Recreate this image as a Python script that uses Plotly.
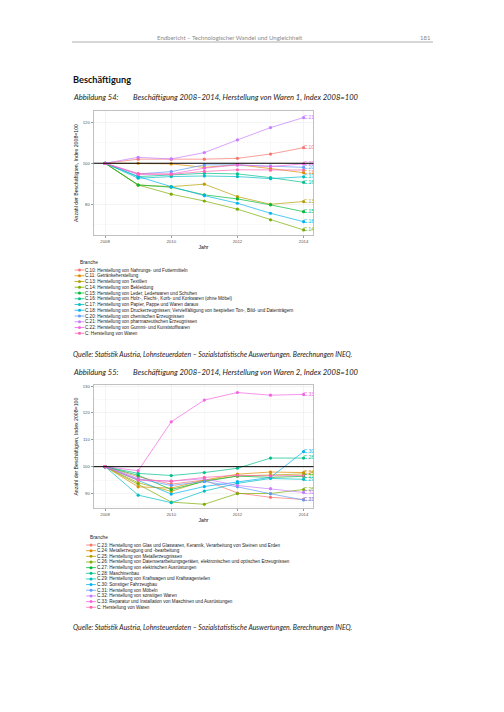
import plotly.graph_objects as go

years = [2008, 2009, 2010, 2011, 2012, 2013, 2014]
hue12 = ["#F8766D", "#DE8C00", "#B79F00", "#7CAE00", "#00BA38", "#00C08B",
         "#00BFC4", "#00B4F0", "#619CFF", "#C77CFF", "#F564E3", "#FF64B0"]

# ---------- Abbildung 54 ----------
codes1 = ["C.10", "C.11", "C.13", "C.14", "C.15", "C.16", "C.17", "C.18", "C.20", "C.21", "C.22", "C"]
names1 = [
    "C.10: Herstellung von Nahrungs- und Futtermitteln",
    "C.11: Getränkeherstellung",
    "C.13: Herstellung von Textilien",
    "C.14: Herstellung von Bekleidung",
    "C.15: Herstellung von Leder, Lederwaren und Schuhen",
    "C.16: Herstellung von Holz-, Flecht-, Korb- und Korkwaren (ohne Möbel)",
    "C.17: Herstellung von Papier, Pappe und Waren daraus",
    "C.18: Herstellung von Druckerzeugnissen; Vervielfältigung von bespielten Ton-, Bild- und Datenträgern",
    "C.20: Herstellung von chemischen Erzeugnissen",
    "C.21: Herstellung von pharmazeutischen Erzeugnissen",
    "C.22: Herstellung von Gummi- und Kunststoffwaren",
    "C: Herstellung von Waren",
]
c10 = [100, 102.0, 102.0, 102.0, 102.4, 104.5, 107.6]
c11 = [100, 100.0, 99.7, 98.0, 99.3, 97.4, 95.4]
c13 = [100, 89.4, 88.6, 89.8, 83.7, 80.0, 81.3]
c14 = [100, 89.4, 84.9, 81.6, 77.6, 72.4, 67.5]
c15 = [100, 89.4, 88.3, 84.6, 82.6, 79.7, 76.4]
c16 = [100, 93.5, 94.3, 95.1, 94.8, 93.0, 90.7]
c17 = [100, 92.7, 93.5, 93.8, 93.5, 92.5, 93.4]
c18 = [100, 93.5, 88.6, 84.2, 80.5, 75.6, 71.5]
c20 = [100, 94.8, 95.9, 99.2, 99.2, 98.7, 98.0]
c21 = [100, 102.9, 102.1, 105.2, 111.4, 117.4, 122.3]
c22 = [100, 94.5, 94.8, 97.6, 99.2, 98.4, 99.7]
c_total = [100, 95.0, 94.6, 96.0, 96.8, 96.6, 96.7]
series1 = [c10, c11, c13, c14, c15, c16, c17, c18, c20, c21, c22, c_total]

# ---------- Abbildung 55 ----------
codes2 = ["C.23", "C.24", "C.25", "C.26", "C.27", "C.28", "C.29", "C.30", "C.31", "C.32", "C.33", "C"]
names2 = [
    "C.23: Herstellung von Glas und Glaswaren, Keramik, Verarbeitung von Steinen und Erden",
    "C.24: Metallerzeugung und -bearbeitung",
    "C.25: Herstellung von Metallerzeugnissen",
    "C.26: Herstellung von Datenverarbeitungsgeräten, elektronischen und optischen Erzeugnissen",
    "C.27: Herstellung von elektrischen Ausrüstungen",
    "C.28: Maschinenbau",
    "C.29: Herstellung von Kraftwagen und Kraftwagenteilen",
    "C.30: Sonstiger Fahrzeugbau",
    "C.31: Herstellung von Möbeln",
    "C.32: Herstellung von sonstigen Waren",
    "C.33: Reparatur und Installation von Maschinen und Ausrüstungen",
    "C: Herstellung von Waren",
]
c23 = [100, 96.2, 93.5, 95.0, 90.2, 88.6, 87.8]
c24 = [100, 92.5, 92.0, 95.0, 97.2, 98.0, 97.8]
c25 = [100, 94.0, 90.8, 94.8, 96.5, 97.0, 97.3]
c26 = [100, 93.5, 86.8, 86.0, 90.0, 90.0, 91.5]
c27 = [100, 96.8, 91.5, 94.5, 96.5, 96.0, 96.4]
c28 = [100, 97.5, 96.7, 97.8, 99.4, 103.2, 103.2]
c29 = [100, 89.4, 86.6, 90.9, 93.8, 95.6, 95.3]
c30 = [100, 95.0, 89.8, 92.6, 94.4, 96.0, 105.6]
c31 = [100, 95.5, 93.0, 94.5, 92.5, 89.9, 87.6]
c32 = [100, 95.2, 94.6, 95.5, 93.0, 91.8, 90.4]
c33 = [100, 98.5, 116.7, 124.8, 127.6, 126.6, 126.9]
series2 = [c23, c24, c25, c26, c27, c28, c29, c30, c31, c32, c33, c_total]

W, H = 504, 712
FONT = "Liberation Sans"
PAGE = "Lato"

fig = go.Figure()


def add_chart(series, codes, xa, ya):
    for vals, code, col in zip(series, codes, hue12):
        fig.add_trace(go.Scatter(
            x=years, y=vals, mode="lines+markers", xaxis=xa, yaxis=ya,
            line=dict(color=col, width=0.7), marker=dict(color=col, size=3.2),
            showlegend=False, hoverinfo="skip"))
    # end-of-line branch labels (the total line carries no label)
    fig.add_trace(go.Scatter(
        x=[years[-1]] * (len(series) - 1), y=[s[-1] for s in series[:-1]], mode="text",
        text=codes[:-1], textposition="middle right", cliponaxis=True,
        textfont=dict(color=hue12[:-1], size=5, family=FONT),
        xaxis=xa, yaxis=ya, showlegend=False, hoverinfo="skip"))


add_chart(series1, codes1, "x", "y")
add_chart(series2, codes2, "x2", "y2")

# legend keys drawn on a page-pixel helper axis
leg1_y = [270 + i * 5.75 for i in range(12)]
leg2_y = [545 + i * 5.66 for i in range(12)]
key_x = [79.5] * 12 + [91.0] * 12
key_y = leg1_y + leg2_y
fig.add_trace(go.Scatter(x=key_x, y=key_y, mode="markers", xaxis="x3", yaxis="y3",
                         marker=dict(symbol="line-ew", size=7, line=dict(color=hue12 * 2, width=0.8)),
                         showlegend=False, hoverinfo="skip"))
fig.add_trace(go.Scatter(x=key_x, y=key_y, mode="markers", xaxis="x3", yaxis="y3",
                         marker=dict(symbol="circle", size=3, color=hue12 * 2),
                         showlegend=False, hoverinfo="skip"))

ann = []


def txt(x, y, s, size, color="#222", family=PAGE, anchor="left", italic=False, bold=False):
    if bold:
        s = "<b>" + s + "</b>"
    if italic:
        s = "<i>" + s + "</i>"
    ann.append(dict(x=x, y=y, xref="x3", yref="y3", text=s, showarrow=False,
                    xanchor=anchor, yanchor="middle",
                    font=dict(size=size, color=color, family=family)))


txt(230, 37.5, "Endbericht – Technologischer Wandel und Ungleichheit", 6, "#8a8a8a", anchor="center")
txt(433, 37.5, "181", 6, "#8a8a8a", anchor="right")
txt(71, 79, "Beschäftigung", 9.2, "#111", bold=True)
txt(71, 96.5, "Abbildung 54:", 7.6, italic=True)
txt(131, 96.5, "Beschäftigung 2008–2014, Herstellung von Waren 1, Index 2008=100", 7.6, italic=True)
txt(71, 354, "Quelle: Statistik Austria, Lohnsteuerdaten – Sozialstatistische Auswertungen. Berechnungen INEQ.", 6.9, italic=True)
txt(71, 371.5, "Abbildung 55:", 7.6, italic=True)
txt(131, 371.5, "Beschäftigung 2008–2014, Herstellung von Waren 2, Index 2008=100", 7.6, italic=True)
txt(71, 627.5, "Quelle: Statistik Austria, Lohnsteuerdaten – Sozialstatistische Auswertungen. Berechnungen INEQ.", 6.9, italic=True)

txt(77.5, 262.3, "Branche", 4.8, "#222", family=FONT)
for yy, nm in zip(leg1_y, names1):
    txt(82.5, yy, nm, 4.6, "#222", family=FONT)
txt(88.0, 537.3, "Branche", 4.8, "#222", family=FONT)
for yy, nm in zip(leg2_y, names2):
    txt(94.5, yy, nm, 4.6, "#222", family=FONT)

shapes = [
    dict(type="line", xref="x3", yref="y3", x0=72, x1=433, y0=42, y1=42,
         line=dict(color="#9a9a9a", width=0.8)),
    dict(type="line", xref="x domain", yref="y", x0=0, x1=1, y0=100, y1=100,
         line=dict(color="black", width=1), layer="above"),
    dict(type="line", xref="x2 domain", yref="y2", x0=0, x1=1, y0=100, y1=100,
         line=dict(color="black", width=1), layer="above"),
]

xdom = [93.5 / W, 313.5 / W]
common_x = dict(range=[2007.65, 2014.3], tickvals=[2008, 2010, 2012, 2014],
                ticks="outside", ticklen=2, tickwidth=0.6, tickcolor="#555",
                tickfont=dict(size=4.3, color="#555", family=FONT),
                showgrid=True, gridcolor="#EBEBEB", gridwidth=0.6, zeroline=False,
                showline=True, mirror=True, linecolor="#b0b0b0", linewidth=0.8,
                minor=dict(tickvals=[2009, 2011, 2013], showgrid=True, gridcolor="#F4F4F4", gridwidth=0.5),
                title=dict(text="Jahr", font=dict(size=5.2, color="#111", family=FONT), standoff=2),
                fixedrange=True)
common_y = dict(ticks="outside", ticklen=2, tickwidth=0.6, tickcolor="#555",
                tickfont=dict(size=4.3, color="#555", family=FONT),
                showgrid=True, gridcolor="#EBEBEB", gridwidth=0.6, zeroline=False,
                showline=True, mirror=True, linecolor="#b0b0b0", linewidth=0.8,
                title=dict(text="Anzahl der Beschäftigten, Index 2008=100",
                           font=dict(size=5.2, color="#111", family=FONT), standoff=3),
                fixedrange=True)

fig.update_layout(
    width=W, height=H, autosize=False,
    margin=dict(l=0, r=0, t=0, b=0, pad=0),
    paper_bgcolor="white", plot_bgcolor="rgba(0,0,0,0)",
    showlegend=False,
    xaxis=dict(domain=xdom, anchor="y", **common_x),
    yaxis=dict(domain=[1 - 235 / H, 1 - 111 / H], anchor="x", range=[65, 125.5],
               tickvals=[80, 100, 120],
               minor=dict(tickvals=[70, 90, 110], showgrid=True, gridcolor="#F4F4F4", gridwidth=0.5),
               **common_y),
    xaxis2=dict(domain=xdom, anchor="y2", **common_x),
    yaxis2=dict(domain=[1 - 508.3 / H, 1 - 385 / H], anchor="x2", range=[84.5, 130.4],
                tickvals=[90, 100, 110, 120, 130],
                minor=dict(tickvals=[85, 95, 105, 115, 125], showgrid=True, gridcolor="#F4F4F4", gridwidth=0.5),
                **common_y),
    xaxis3=dict(domain=[0, 1], anchor="y3", range=[0, W], visible=False, fixedrange=True),
    yaxis3=dict(domain=[0, 1], anchor="x3", range=[H, 0], visible=False, fixedrange=True),
    annotations=ann, shapes=shapes,
)

fig.write_html("out.html", config={"displayModeBar": False, "staticPlot": True},
               post_script="document.body.style.margin='0';document.body.style.overflow='hidden';")
